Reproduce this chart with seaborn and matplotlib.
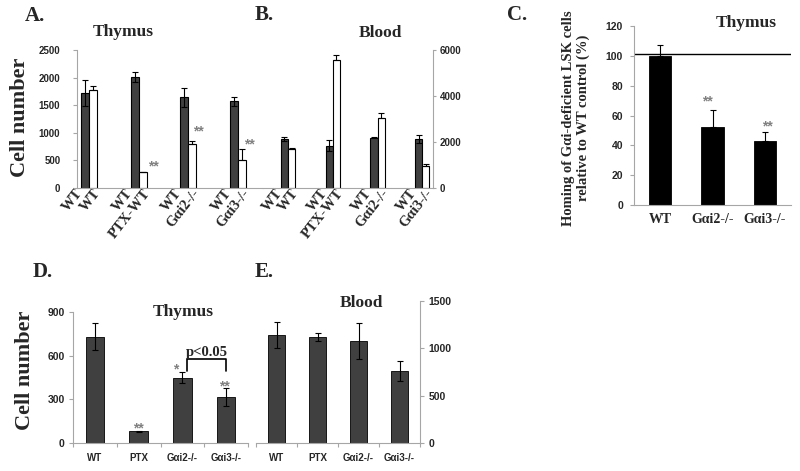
import numpy as np
import pandas as pd
import matplotlib
matplotlib.use("Agg")
import matplotlib.pyplot as plt
import seaborn as sns

# values
groups = ["WT", "PTX-WT", "Gαi2-/-", "Gαi3-/-"]
thymus_donor = [1720, 2010, 1645, 1570]
thymus_donor_err = [235, 95, 170, 80]
thymus_recip = [1780, 285, 800, 510]
thymus_recip_err = [60, 12, 60, 190]
blood_donor = [2120, 1840, 2190, 2120]
blood_donor_err = [90, 240, 12, 170]
blood_recip = [1710, 5570, 3060, 950]
blood_recip_err = [30, 230, 200, 115]

homing_groups = ["WT", "Gαi2-/-", "Gαi3-/-"]
homing_pct = [100, 52, 43]
homing_err = [7, 12, 6]
wt_reference = 101

treat_groups = ["WT", "PTX", "Gαi2-/-", "Gαi3-/-"]
thymus_cells = [730, 80, 450, 315]
thymus_cells_err = [92, 5, 38, 63]
blood_cells = [1140, 1120, 1075, 760]
blood_cells_err = [137, 44, 190, 110]
p_bracket_foot = 495
p_bracket_top = 577

SERIF = ["Liberation Serif", "DejaVu Serif"]
SANS = ["Liberation Sans", "DejaVu Sans"]
DARK = "#404040"
AXIS_GRAY = "#a6a6a6"
STAR_GRAY = "#808080"
W, H = 800, 471

sns.set_theme(style="white")
plt.rcParams["font.family"] = SANS
plt.rcParams["font.weight"] = "bold"


def px_axes(fig, x0, x1, ytop, ybot):
    return fig.add_axes([x0 / W, 1 - ybot / H, (x1 - x0) / W, (ybot - ytop) / H])


def fig_text(fig, x, y, s, **kw):
    kw.setdefault("ha", "center")
    kw.setdefault("va", "center")
    fig.text(x / W, 1 - y / H, s, **kw)


def style_axes(ax, side="left", length=3, pad=3, labelsize=7):
    for s in ["top", "right", "left"]:
        ax.spines[s].set_visible(False)
    ax.spines[side].set_visible(True)
    for s in ["bottom", side]:
        ax.spines[s].set_color(AXIS_GRAY)
        ax.spines[s].set_linewidth(0.8)
    if side == "right":
        ax.yaxis.tick_right()
    ax.tick_params(axis="y", length=length, width=0.8, color=AXIS_GRAY,
                   labelsize=labelsize, pad=pad, left=(side == "left"), right=(side == "right"))
    ax.set_xlabel("")
    ax.set_ylabel("")


def add_errors(ax, container, vals, errs, both=True):
    xs = sorted(p.get_x() + p.get_width() / 2 for p in container)
    lower = errs if both else [0] * len(errs)
    ax.errorbar(xs, vals, yerr=[lower, errs], fmt="none", ecolor="black",
                elinewidth=0.8, capsize=2.5, capthick=0.8)
    return xs


def stars(ax, xs, tops, idx, text, offsets):
    for i, (dx, dy) in zip(idx, offsets):
        ax.annotate(text if isinstance(text, str) else text[i], xy=(xs[i], tops[i]),
                    xytext=(dx, dy), textcoords="offset points",
                    ha="center", va="baseline", color=STAR_GRAY, fontsize=10)


def paired_panel(ax, donor, donor_err, recip, recip_err, ymax, step, spread):
    df = pd.DataFrame({
        "group": groups * 2,
        "cells": ["donor"] * len(groups) + ["recipient"] * len(groups),
        "value": donor + recip,
    })
    sns.barplot(data=df, x="group", y="value", hue="cells", order=groups,
                hue_order=["donor", "recipient"],
                palette={"donor": DARK, "recipient": "white"}, saturation=1,
                width=0.32, edgecolor="black", linewidth=0.8,
                errorbar=None, legend=False, ax=ax)
    xd = add_errors(ax, ax.containers[0], donor, donor_err, both=True)
    xr = add_errors(ax, ax.containers[1], recip, recip_err, both=False)
    # labels sit a little apart from the bar centres, as in the original
    ticks, labels = [], []
    for g, a, b in zip(groups, xd, xr):
        ticks += [a - spread, b + spread]
        labels += ["WT", g]
    ax.set_xticks(ticks)
    ax.set_xticklabels(labels, rotation=52, ha="right", va="center",
                       rotation_mode="anchor", family=SERIF, fontsize=10.5,
                       fontweight="bold")
    ax.tick_params(axis="x", length=0, pad=2)
    ax.set_ylim(0, ymax)
    ax.set_yticks(np.arange(0, ymax + 1, step))
    return xd, xr


def single_panel(ax, cats, vals, errs, color, width, ymax, step, both=True):
    df = pd.DataFrame({"group": cats, "value": vals})
    sns.barplot(data=df, x="group", y="value", order=cats, color=color,
                saturation=1, width=width, edgecolor="black", linewidth=0.6,
                errorbar=None, ax=ax)
    xs = add_errors(ax, ax.containers[0], vals, errs, both=both)
    ax.set_xlim(-0.5, len(cats) - 0.5)
    ax.set_ylim(0, ymax)
    ax.set_yticks(np.arange(0, ymax + 1, step))
    return xs


fig = plt.figure(figsize=(8, 4.71), dpi=100)

# A: thymus, left axis
axA = px_axes(fig, 77, 263, 50, 188)
xd, xr = paired_panel(axA, thymus_donor, thymus_donor_err, thymus_recip,
                      thymus_recip_err, 2500, 500, 0.1)
style_axes(axA, "left", length=3, pad=9, labelsize=7)
axA.set_xlim(-0.24, 3.5)
tops = [v + e for v, e in zip(thymus_recip, thymus_recip_err)]
stars(axA, xr, tops, [1, 2, 3], "**", [(8, 1), (4, 4), (5, 1)])

# B: blood, right axis
axB = px_axes(fig, 263, 433, 50, 188)
paired_panel(axB, blood_donor, blood_donor_err, blood_recip, blood_recip_err,
             6000, 2000, 0.1)
style_axes(axB, "right", length=2, pad=3, labelsize=7)
axB.set_xlim(-0.56, 3.24)

# C: homing relative to WT
axC = px_axes(fig, 634, 791, 26, 205)
xc = single_panel(axC, homing_groups, homing_pct, homing_err, "black", 0.43,
                  120, 20, both=False)
style_axes(axC, "left", length=3, pad=5, labelsize=7.5)
axC.axhline(wt_reference, color="black", lw=1)
axC.set_xticks(range(len(homing_groups)))
axC.set_xticklabels(homing_groups, family=SERIF, fontsize=10, fontweight="bold")
axC.tick_params(axis="x", length=0, pad=6)
tops = [v + e for v, e in zip(homing_pct, homing_err)]
stars(axC, xc, tops, [1, 2], "**", [(-4, 3), (1.5, 1)])

# D: thymus, treatments
axD = px_axes(fig, 73, 248, 312, 443)
xdd = single_panel(axD, treat_groups, thymus_cells, thymus_cells_err, DARK,
                   0.42, 900, 300)
style_axes(axD, "left", length=3, pad=3, labelsize=7.5)
tops = [v + e for v, e in zip(thymus_cells, thymus_cells_err)]
stars(axD, xdd, tops, [1, 2, 3], ["", "**", "*", "**"], [(0, -1.5), (-4.5, -1), (-1.5, -2)])
left_leg = xdd[2] + 0.1
axD.plot([left_leg, left_leg, xdd[3], xdd[3]],
         [p_bracket_foot, p_bracket_top, p_bracket_top, p_bracket_foot],
         color="black", lw=1.2)
axD.text((left_leg + xdd[3]) / 2, p_bracket_top, "p<0.05", ha="center",
         va="bottom", family=SERIF, fontsize=10.5, fontweight="bold")

# E: blood, treatments
axE = px_axes(fig, 256, 420, 301, 443)
single_panel(axE, treat_groups, blood_cells, blood_cells_err, DARK, 0.42,
             1500, 500)
style_axes(axE, "right", length=3, pad=3, labelsize=7.5)

for ax in (axD, axE):
    ax.set_xticks(np.arange(-0.5, len(treat_groups), 1), minor=True)
    ax.tick_params(axis="x", which="minor", length=3, width=0.8, color=AXIS_GRAY,
                   bottom=True)
    ax.tick_params(axis="x", which="major", length=0, pad=7, labelsize=7)

# titles, axis labels, panel letters
title_kw = dict(family=SERIF, fontsize=12.5, fontweight="bold")
fig_text(fig, 123, 32, "Thymus", **title_kw)
fig_text(fig, 380, 33, "Blood", **title_kw)
fig_text(fig, 746, 23, "Thymus", **title_kw)
fig_text(fig, 183, 312, "Thymus", **title_kw)
fig_text(fig, 361, 303, "Blood", **title_kw)

ylab_kw = dict(family=SERIF, fontsize=16, fontweight="bold", rotation=90)
fig_text(fig, 20, 117, "Cell number", **ylab_kw)
fig_text(fig, 25, 370, "Cell number", **ylab_kw)
fig_text(fig, 576, 118, "Homing of Gαi-deficient LSK cells\nrelative to WT control (%)",
         family=SERIF, fontsize=10.5, fontweight="bold", rotation=90,
         multialignment="center", linespacing=1.1)

letter_kw = dict(family=SERIF, fontsize=15, fontweight="bold")
for letter, x, y in [("A.", 35, 16), ("B.", 264, 15), ("C.", 517, 15),
                     ("D.", 43, 272), ("E.", 264, 272)]:
    fig_text(fig, x, y, letter, **letter_kw)

fig.savefig("out.png", dpi=100)
